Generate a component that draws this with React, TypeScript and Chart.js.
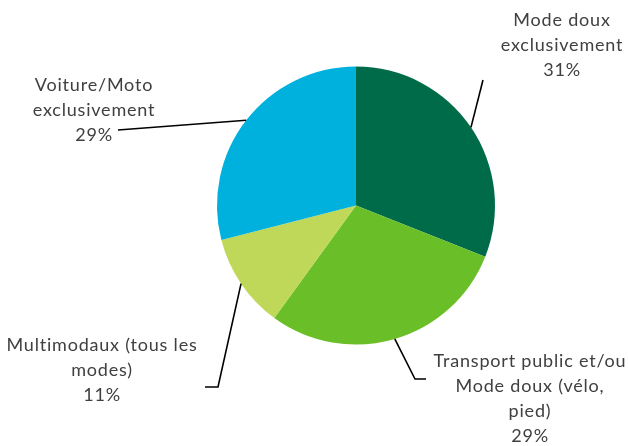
import React, { useEffect, useRef } from "react";
import { Chart, registerables } from "chart.js";

Chart.register(...registerables);

const categories = [
  "Mode doux exclusivement",
  "Transport public et/ou Mode doux (vélo, pied)",
  "Multimodaux (tous les modes)",
  "Voiture/Moto exclusivement",
];
const values = [31, 29, 11, 29];
const labelLines = [
  ["Mode doux", "exclusivement", "31%"],
  ["Transport public et/ou", "Mode doux (vélo,", "pied)", "29%"],
  ["Multimodaux (tous les", "modes)", "11%"],
  ["Voiture/Moto", "exclusivement", "29%"],
];
const colors = ["#006B48", "#6ABE28", "#C0D85A", "#00B1DE"];

// annotation layout (label centre, first line y, leader elbow/end points)
const labelLayout = [
  { x: 562, y: 20, pts: [[483, 80]] },
  { x: 530, y: 361, pts: [[415, 379], [426, 379]] },
  { x: 102, y: 345, pts: [[218, 387], [205, 387]] },
  { x: 94, y: 85, pts: [[118, 130]] },
];

const leaderPlugin = {
  id: "leaders",
  afterDraw(chart: any) {
    const ctx = chart.ctx;
    const meta = chart.getDatasetMeta(0);
    ctx.save();
    meta.data.forEach((arc: any, i: number) => {
      const p = arc.getProps(["x", "y", "startAngle", "endAngle", "outerRadius"], true);
      const mid = (p.startAngle + p.endAngle) / 2;
      const sx = p.x + Math.cos(mid) * p.outerRadius;
      const sy = p.y + Math.sin(mid) * p.outerRadius;
      const lay = labelLayout[i];
      ctx.beginPath();
      ctx.moveTo(sx, sy);
      lay.pts.forEach(([x, y]) => ctx.lineTo(x, y));
      ctx.strokeStyle = "#000000";
      ctx.lineWidth = 1.6;
      ctx.stroke();
      ctx.fillStyle = "#404040";
      ctx.font = "18px Lato";
      (ctx as any).letterSpacing = "0.8px";
      ctx.textAlign = "center";
      ctx.textBaseline = "middle";
      labelLines[i].forEach((t, k) => {
        ctx.fillText(t, lay.x, lay.y + k * 25);
      });
      (ctx as any).letterSpacing = "0px";
    });
    ctx.restore();
  },
};

export default function App() {
  const ref = useRef<HTMLCanvasElement>(null);
  useEffect(() => {
    const chart = new Chart(ref.current!, {
      type: "pie",
      data: {
        labels: categories,
        datasets: [
          {
            data: values,
            backgroundColor: colors,
            borderWidth: 0,
          },
        ],
      },
      options: {
        responsive: false,
        animation: false,
        layout: { padding: { left: 217, right: 133, top: 66.5, bottom: 101.5 } },
        plugins: {
          legend: { display: false },
          tooltip: { enabled: false },
        },
      },
      plugins: [leaderPlugin],
    });
    return () => chart.destroy();
  }, []);
  return (
    <div style={{ position: "fixed", left: 0, top: 0, width: 628, height: 446, background: "#fff" }}>
      <canvas ref={ref} width={628} height={446} />
    </div>
  );
}
